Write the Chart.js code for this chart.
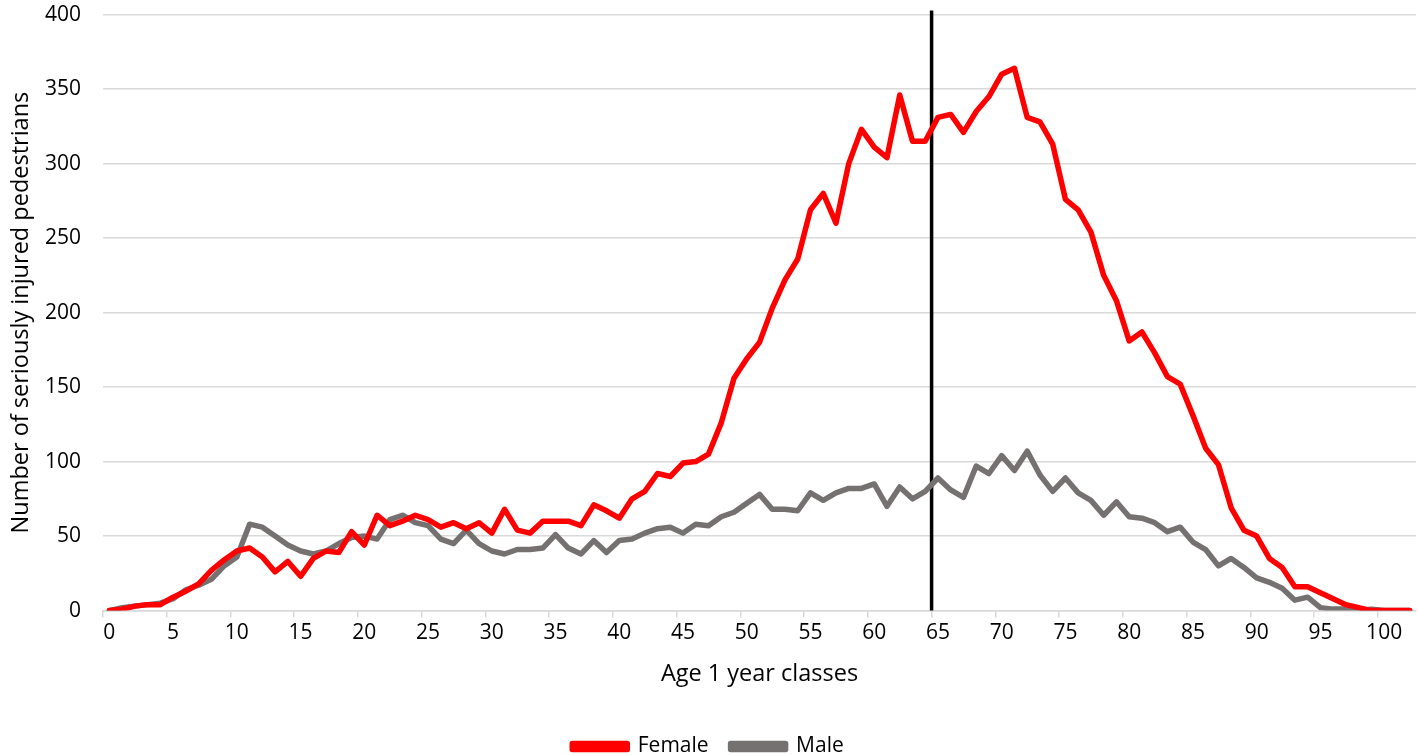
<!DOCTYPE html>
<html>
<head>
<meta charset="utf-8">
<script src="https://cdn.jsdelivr.net/npm/chart.js@4/dist/chart.umd.min.js"></script>
<style>
	html, body { margin: 0; padding: 0; background: #fff; overflow: hidden; }
</style>
</head>
<body>
<canvas id="myChart" width="1418" height="755"></canvas>
<script>
const ages = [
	0, 1, 2, 3, 4, 5, 6, 7, 8, 9, 10, 11, 12, 13, 14, 15, 16, 17, 18, 19,
	20, 21, 22, 23, 24, 25, 26, 27, 28, 29, 30, 31, 32, 33, 34, 35, 36, 37, 38, 39,
	40, 41, 42, 43, 44, 45, 46, 47, 48, 49, 50, 51, 52, 53, 54, 55, 56, 57, 58, 59,
	60, 61, 62, 63, 64, 65, 66, 67, 68, 69, 70, 71, 72, 73, 74, 75, 76, 77, 78, 79,
	80, 81, 82, 83, 84, 85, 86, 87, 88, 89, 90, 91, 92, 93, 94, 95, 96, 97, 98, 99,
	100, 101, 102,
];
const female = [
	0, 1, 3, 4, 4, 9, 13, 18, 27, 34, 40, 42, 36, 26, 33, 23, 35, 40, 39, 53,
	44, 64, 57, 60, 64, 61, 56, 59, 55, 59, 52, 68, 54, 52, 60, 60, 60, 57, 71, 67,
	62, 75, 80, 92, 90, 99, 100, 105, 126, 156, 169, 180, 203, 222, 236, 269, 280, 260, 300, 323,
	311, 304, 346, 315, 315, 331, 333, 321, 335, 345, 360, 364, 331, 328, 313, 276, 269, 254, 225, 208,
	181, 187, 173, 157, 152, 131, 109, 98, 69, 54, 50, 35, 29, 16, 16, 12, 8, 4, 2, 0,
	0, 0, 0,
];
const male = [
	0, 2, 3, 4, 5, 8, 14, 17, 21, 30, 36, 58, 56, 50, 44, 40, 38, 40, 45, 49,
	50, 48, 61, 64, 59, 57, 48, 45, 54, 45, 40, 38, 41, 41, 42, 51, 42, 38, 47, 39,
	47, 48, 52, 55, 56, 52, 58, 57, 63, 66, 72, 78, 68, 68, 67, 79, 74, 79, 82, 82,
	85, 70, 83, 75, 80, 89, 81, 76, 97, 92, 104, 94, 107, 91, 80, 89, 79, 74, 64, 73,
	63, 62, 59, 53, 56, 46, 41, 30, 35, 29, 22, 19, 15, 7, 9, 2, 1, 1, 0, 1,
	0, 0, 0,
];
const yTicks = [0, 50, 100, 150, 200, 250, 300, 350, 400];
const markerAge = 65;

const fontFam = "'Open Sans', 'Noto Sans', sans-serif";

// black vertical line on the tick before age 65
const markerLine = {
	id: "markerLine",
	beforeDatasetsDraw(chart) {
		const x = chart.scales.x;
		const i = ages.indexOf(markerAge);
		const px = (x.getPixelForValue(i) + x.getPixelForValue(i - 1)) / 2;
		const ctx = chart.ctx;
		ctx.save();
		ctx.strokeStyle = "#000";
		ctx.lineWidth = 3.5;
		ctx.beginPath();
		ctx.moveTo(px, chart.chartArea.top - 4);
		ctx.lineTo(px, chart.chartArea.bottom);
		ctx.stroke();
		ctx.restore();
	},
};

new Chart(document.getElementById("myChart"), {
	type: "line",
	data: {
		labels: ages.map(String),
		datasets: [
			{
				label: "Female",
				data: female,
				borderColor: "#ff0000",
				backgroundColor: "#ff0000",
				borderWidth: 5.5,
				pointRadius: 0,
				borderJoinStyle: "round",
				borderCapStyle: "round",
			},
			{
				label: "Male",
				data: male,
				borderColor: "#767171",
				backgroundColor: "#767171",
				borderWidth: 5.5,
				pointRadius: 0,
				borderJoinStyle: "round",
				borderCapStyle: "round",
			},
		],
	},
	options: {
		responsive: false,
		animation: false,
		devicePixelRatio: 1,
		layout: { padding: { top: 0, right: 2, left: 0, bottom: -12 } },
		plugins: {
			legend: {
				position: "bottom",
				labels: {
					boxWidth: 55,
					boxHeight: 6,
					color: "#000",
					padding: 22,
					font: { family: fontFam, size: 21 },
				},
			},
			tooltip: { enabled: false },
		},
		scales: {
			x: {
				offset: true,
				grid: {
					offset: true,
					drawOnChartArea: false,
					tickLength: 7,
					lineWidth: 1.5,
					color: (c) => (c.index % 5 === 0 && c.index < ages.length ? "#d9d9d9" : "transparent"),
				},
				border: { color: "#d9d9d9", width: 1.5 },
				ticks: {
					autoSkip: false,
					maxRotation: 0,
					color: "#000",
					padding: 3,
					font: { family: fontFam, size: 21 },
					callback: (v, i) => (i % 5 === 0 ? ages[i] : ""),
				},
				title: {
					display: true,
					text: "Age 1 year classes",
					color: "#000",
					font: { family: fontFam, size: 23.5 },
					padding: { top: 11, bottom: 26 },
				},
			},
			y: {
				min: 0,
				max: 400,
				afterBuildTicks: (s) => {
					s.ticks = yTicks.map((v) => ({ value: v }));
				},
				afterFit: (s) => {
					s.width = 103;
				},
				grid: { color: "#d9d9d9", lineWidth: 1.5, drawTicks: true, tickLength: 20, tickColor: "transparent" },
				border: { display: false },
				ticks: {
					color: "#000",
					padding: 2,
					font: { family: fontFam, size: 21 },
				},
				title: {
					display: true,
					text: "Number of seriously injured pedestrians",
					color: "#000",
					font: { family: fontFam, size: 23.5 },
					padding: { top: 7, bottom: 4 },
				},
			},
		},
	},
	plugins: [markerLine],
});
</script>
</body>
</html>
